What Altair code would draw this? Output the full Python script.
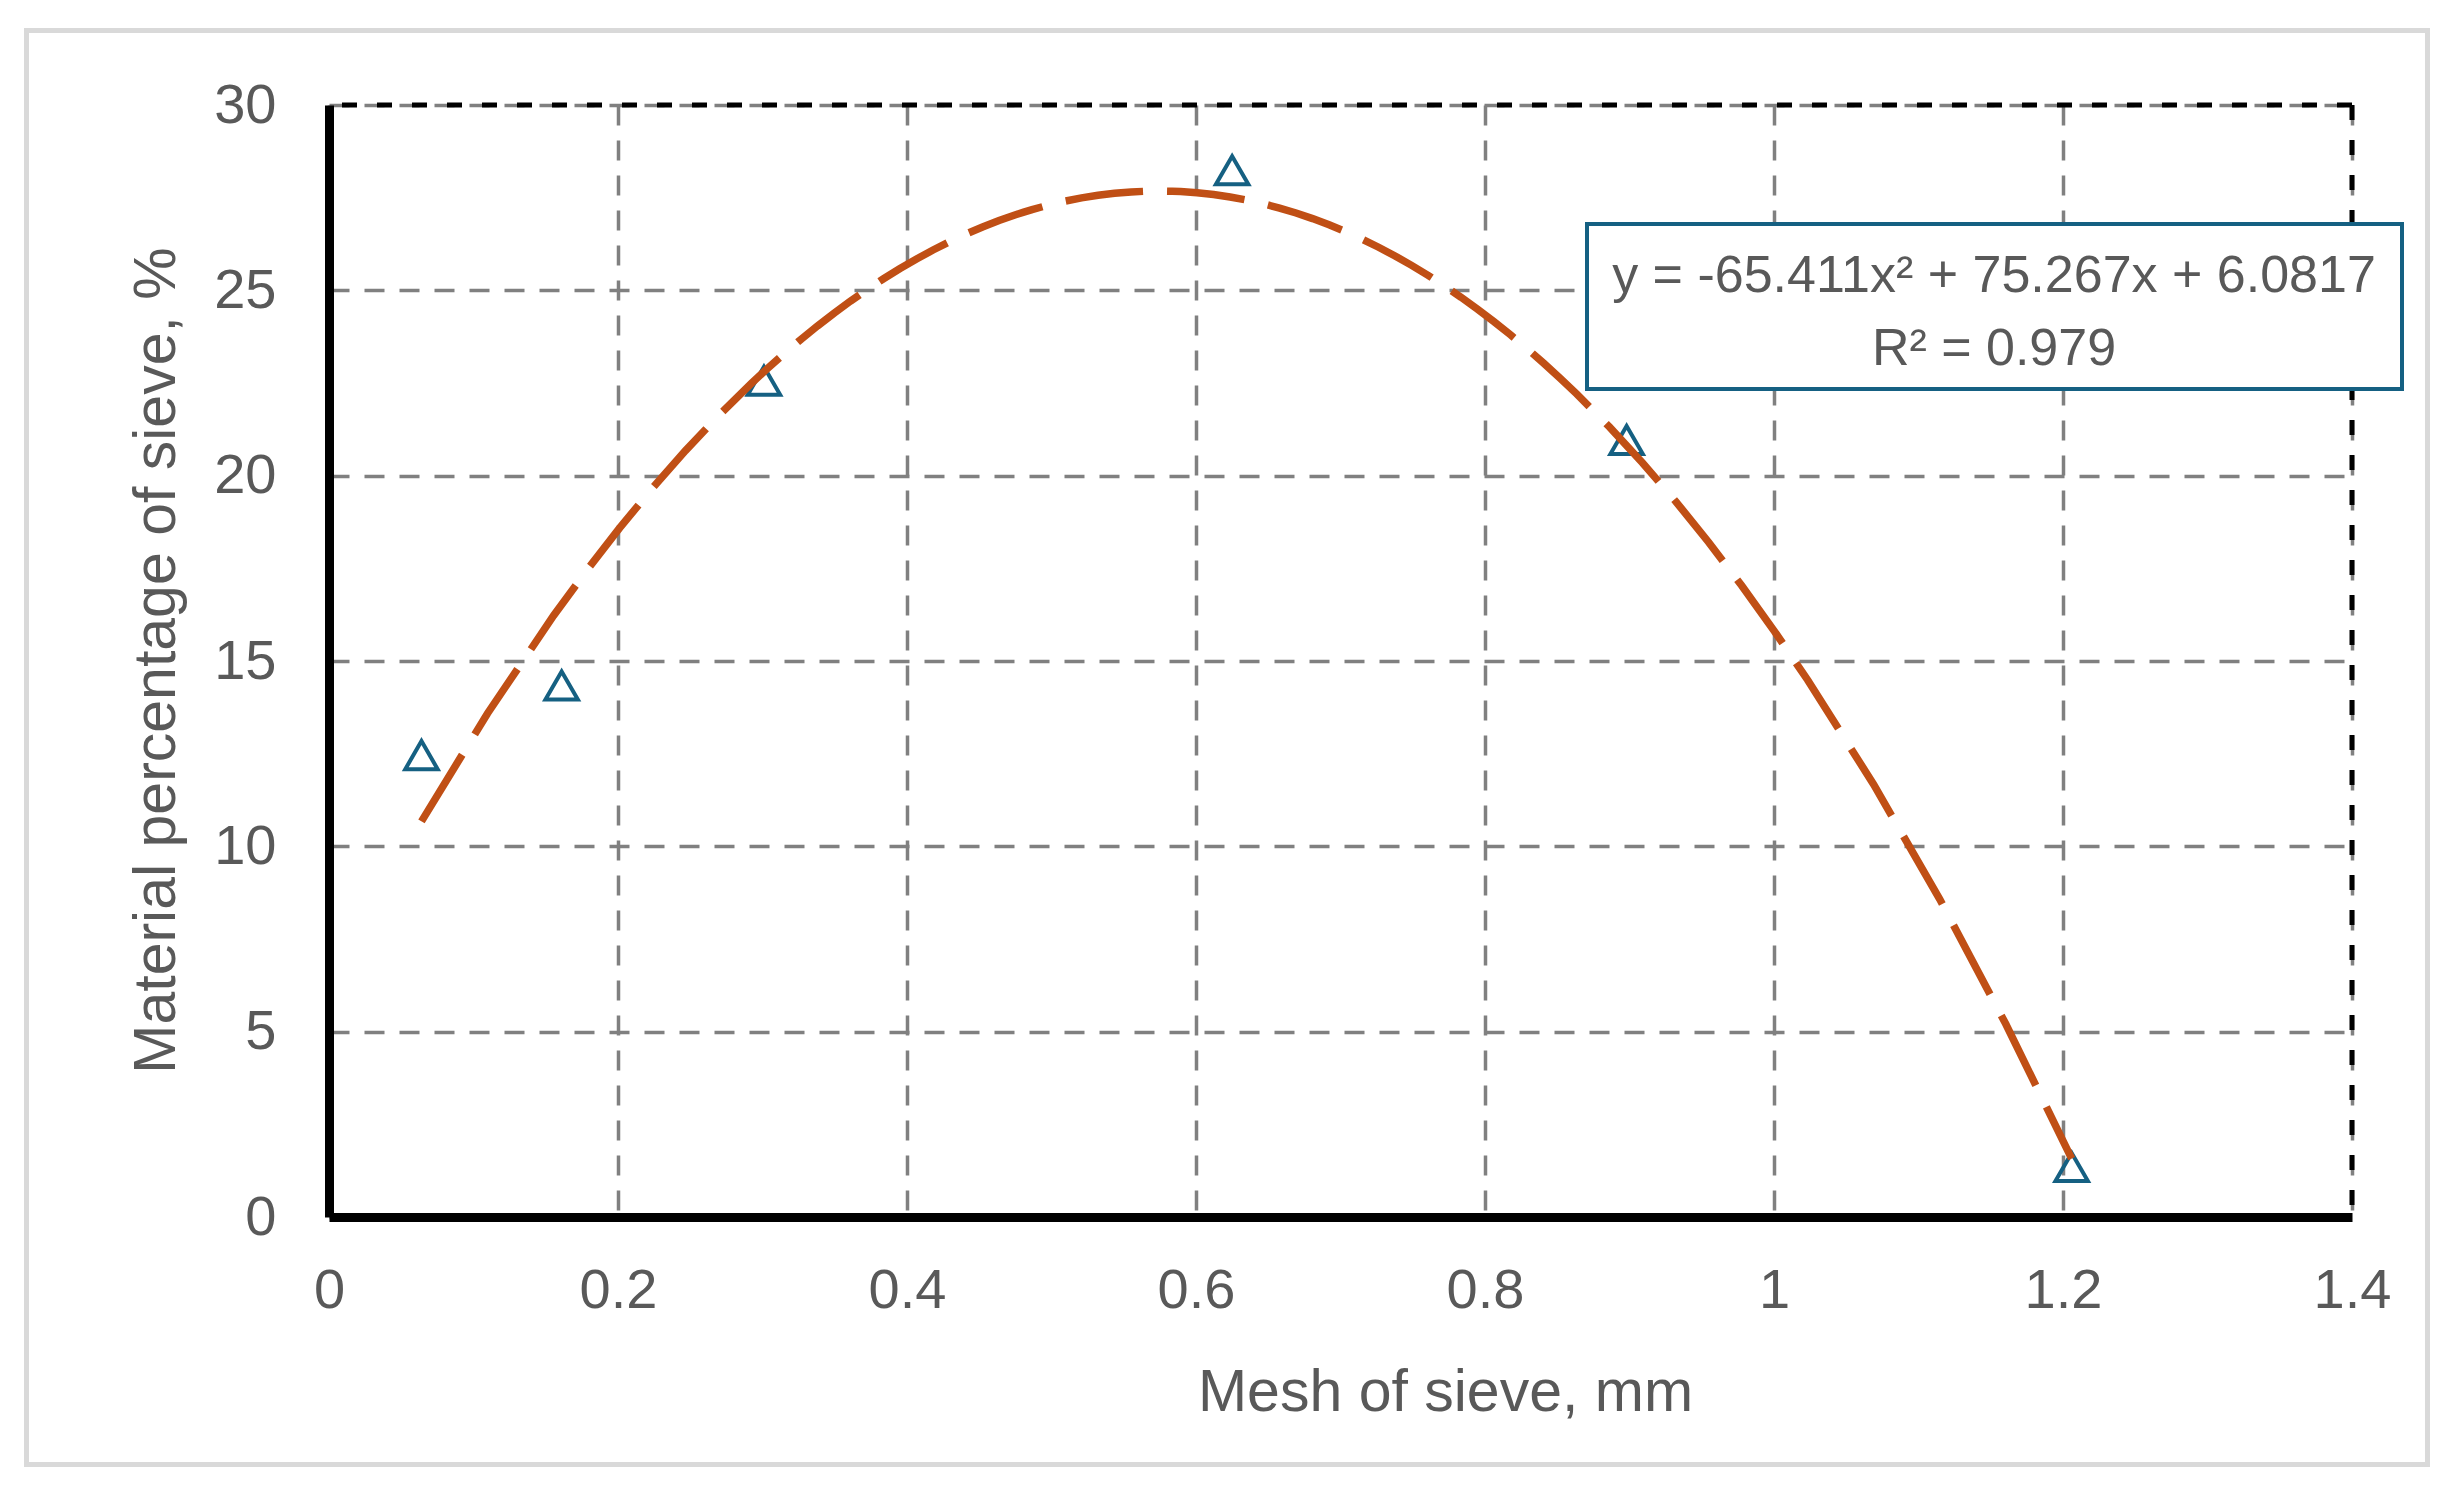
import altair as alt
import pandas as pd

# ---- values ----
mesh_mm = [0.064, 0.161, 0.301, 0.625, 0.898, 1.206]
share_pct = [12.46, 14.34, 22.56, 28.24, 20.96, 1.35]
x_ticks = [0, 0.2, 0.4, 0.6, 0.8, 1, 1.2, 1.4]
y_ticks = [0, 5, 10, 15, 20, 25, 30]
x_title = "Mesh of sieve, mm"
y_title = "Material percentage of sieve, %"
equation_text = ["y = -65.411x² + 75.267x + 6.0817", "R² = 0.979"]

df = pd.DataFrame({"mesh": mesh_mm, "share": share_pct})
one = pd.DataFrame({"k": [0]})

W, H = 2023, 1112
FONT = "Liberation Sans"
GREY_TEXT = "#595959"
BLUE = "#156082"
ORANGE = "#C04F15"

xscale = alt.Scale(domain=[x_ticks[0], x_ticks[-1]], nice=False, zero=False)
yscale = alt.Scale(domain=[y_ticks[0], y_ticks[-1]], nice=False)

# outer chart-area border
frame = alt.Chart(one).mark_rect(
    fill="transparent", stroke="#d9d9d9", strokeWidth=5
).encode(
    x=alt.value(-302.5), x2=alt.value(2098.5),
    y=alt.value(-74.5), y2=alt.value(1359.5),
)

points = alt.Chart(df).mark_point(
    shape="triangle-up", filled=False, size=1050, strokeWidth=4,
    color=BLUE, opacity=1,
).encode(
    x=alt.X("mesh:Q", scale=xscale, axis=alt.Axis(
        values=x_ticks, format="~g", title=x_title, labelPadding=46,
        titleX=1116, titleY=193, titleAlign="center", titleBaseline="alphabetic")),
    y=alt.Y("share:Q", scale=yscale, axis=alt.Axis(
        values=y_ticks, title=y_title, labelPadding=53,
        titleX=-155, titleY=555, titleAngle=270, titleAlign="center",
        titleBaseline="alphabetic")),
)

curve = alt.Chart(df).transform_regression(
    "mesh", "share", method="poly", order=2
).mark_line(color=ORANGE, strokeWidth=7.5, strokeDash=[78, 24]).encode(
    x="mesh:Q", y="share:Q"
)

top_edge = alt.Chart(one).mark_rule(
    color="black", strokeWidth=5, strokeDash=[15, 20]
).encode(y=alt.datum(y_ticks[-1]))

right_edge = alt.Chart(one).mark_rule(
    color="black", strokeWidth=5, strokeDash=[15, 20]
).encode(x=alt.datum(x_ticks[-1]))

box = alt.Chart(one).mark_rect(
    fill="white", stroke=BLUE, strokeWidth=4
).encode(
    x=alt.value(1258), x2=alt.value(2073),
    y=alt.value(119), y2=alt.value(284),
)

eq1 = alt.Chart(one).mark_text(
    font=FONT, fontSize=52, color=GREY_TEXT, align="center", baseline="alphabetic"
).encode(x=alt.value(1665), y=alt.value(187), text=alt.value(equation_text[0]))

eq2 = alt.Chart(one).mark_text(
    font=FONT, fontSize=52, color=GREY_TEXT, align="center", baseline="alphabetic"
).encode(x=alt.value(1665), y=alt.value(260), text=alt.value(equation_text[1]))

chart = alt.layer(
    frame, points, curve, top_edge, right_edge, box, eq1, eq2
).properties(
    width=W, height=H,
    autosize=alt.AutoSizeParams(type="none"),
    padding={"left": 321, "top": 97, "right": 89, "bottom": 256},
).configure_view(
    strokeWidth=0
).configure_axis(
    grid=True, gridColor="#808080", gridWidth=3.5, gridDash=[20, 15],
    domainColor="black", domainWidth=9, ticks=False,
    labelFont=FONT, labelFontSize=56, labelColor=GREY_TEXT,
    labelFlush=False, labelOverlap=False,
    titleFont=FONT, titleFontSize=59, titleColor=GREY_TEXT, titleFontWeight="normal",
)

chart.save("out.html", embed_options={"renderer": "svg", "actions": False})
